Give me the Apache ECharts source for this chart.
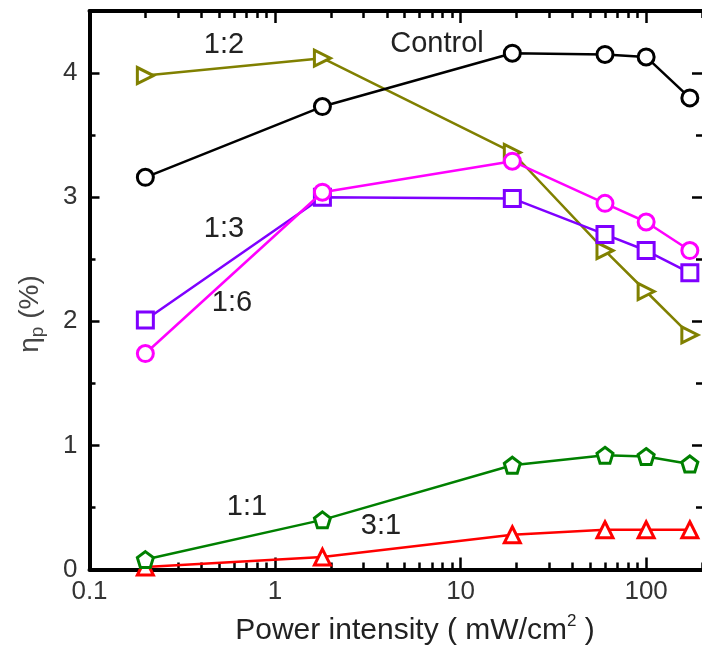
<!DOCTYPE html>
<html><head><meta charset="utf-8">
<script src="https://cdn.jsdelivr.net/npm/echarts@6/dist/echarts.min.js"></script>
<style>html,body{margin:0;padding:0;background:#fff}#c{width:702px;height:652px}</style>
</head><body><div id="c"></div>
<script>
// ---- data ----
const intensity = [0.2, 1.8, 19, 60, 100, 172];
const control = [3.16, 3.73, 4.16, 4.15, 4.13, 3.80];
const ratio12 = [3.98, 4.12, 3.36, 2.57, 2.24, 1.89];
const ratio13 = [2.01, 3.00, 2.99, 2.70, 2.57, 2.39];
const ratio16 = [1.74, 3.04, 3.29, 2.95, 2.80, 2.57];
const ratio11 = [0.08, 0.40, 0.84, 0.92, 0.91, 0.85];
const ratio31 = [0.02, 0.10, 0.28, 0.32, 0.32, 0.32];
const xMajorTicks = [0.1, 1, 10, 100];
const xMinorTicks = [0.2,0.3,0.4,0.5,0.6,0.7,0.8,0.9, 2,3,4,5,6,7,8,9, 20,30,40,50,60,70,80,90, 200];
const yTickLabels = [0, 1, 2, 3, 4];

const FONT = 'Liberation Sans, Arial, sans-serif';
const X_MIN = 0.1, X_MAX = 200, Y_MIN = 0, Y_MAX = 4.5;
const pentagon = 'path://M50,0 L97.6,34.5 L79.4,90.5 L20.6,90.5 L2.4,34.5 Z';

function mk(name, vals, color, symbol, rotate, z) {
  return {
    name, type: 'line', xAxisIndex: 0, yAxisIndex: 0,
    data: intensity.map((x, i) => [x, vals[i]]),
    symbol, symbolSize: 16, symbolRotate: rotate || 0, showAllSymbol: true,
    lineStyle: { color, width: 2.5 },
    itemStyle: { color: '#fff', borderColor: color, borderWidth: 3 },
    emphasis: { disabled: true }, clip: false, z
  };
}

function xAxisBase(pos, major, showLine) {
  return {
    type: 'log', logBase: 10, min: X_MIN, max: X_MAX, position: pos, gridIndex: 0,
    axisLine: { show: showLine, onZero: false, lineStyle: { color: '#000', width: 4 } },
    axisTick: { show: true, inside: true, length: major ? 12 : 7,
      lineStyle: { color: '#000', width: 2.5 }, customValues: major ? xMajorTicks : xMinorTicks },
    axisLabel: { show: false },
    splitLine: { show: false }, minorTick: { show: false }
  };
}

const xBottom = xAxisBase('bottom', true, true);
xBottom.axisLabel = {
  show: true, customValues: xMajorTicks, fontSize: 26, fontFamily: FONT, color: '#333', margin: 9,
  formatter: v => String(+(+v).toPrecision(6))
};

function yAxisBase(pos, labels, showLine) {
  return {
    type: 'value', min: Y_MIN, max: Y_MAX, interval: 1, position: pos,
    axisLine: { show: showLine, onZero: false, lineStyle: { color: '#000', width: 4 } },
    axisTick: { show: true, inside: true, length: 10, lineStyle: { color: '#000', width: 2.5 } },
    minorTick: { show: true, splitNumber: 2, length: 6, lineStyle: { color: '#000', width: 2.5 } },
    axisLabel: labels ? { show: true, fontSize: 26, fontFamily: FONT, color: '#333', margin: 12,
      showMaxLabel: false, formatter: v => (yTickLabels.indexOf(v) >= 0 ? String(v) : '') } : { show: false },
    splitLine: { show: false }, minorSplitLine: { show: false }
  };
}

function ann(text, x, y) {
  return { type: 'text', x, y, z: 100, style: { text, fill: '#222', font: '29px ' + FONT,
    align: 'center', verticalAlign: 'middle' } };
}

const chart = echarts.init(document.getElementById('c'), null, { renderer: 'canvas' });
chart.setOption({
  animation: false,
  backgroundColor: '#fff',
  grid: { left: 89.5, top: 11, right: -3, bottom: 82.5, containLabel: false },
  xAxis: [xBottom, xAxisBase('bottom', false, false), xAxisBase('top', true, true), xAxisBase('top', false, false)],
  yAxis: [yAxisBase('left', true, true), yAxisBase('right', false, false)],
  series: [
    mk('3:1', ratio31, '#ff0000', 'triangle', 0, 2),
    mk('1:2', ratio12, '#808000', 'triangle', -90, 3),
    mk('1:3', ratio13, '#7f00ff', 'rect', 0, 4),
    mk('1:6', ratio16, '#ff00ff', 'circle', 0, 5),
    mk('Control', control, '#000000', 'circle', 0, 6),
    mk('1:1', ratio11, '#008000', pentagon, 0, 7)
  ],
  graphic: [
    ann('1:2', 224, 45),
    ann('Control', 437, 44),
    ann('1:3', 224, 229),
    ann('1:6', 232, 303),
    ann('1:1', 247, 507),
    ann('3:1', 381, 526),
    { type: 'text', x: 415, y: 631, z: 100, style: {
      text: '{m|Power intensity ( mW/cm}{s|2}{m| )}', align: 'center', verticalAlign: 'middle',
      rich: { m: { fontSize: 30, fontFamily: FONT, fill: '#222', lineHeight: 36 },
              s: { fontSize: 17, fontFamily: FONT, fill: '#222', lineHeight: 20, verticalAlign: 'top' } } } },
    { type: 'text', x: 30, y: 314, rotation: Math.PI / 2, z: 100, style: {
      text: '{m|η}{s|p}{m| (%)}', align: 'center', verticalAlign: 'middle',
      rich: { m: { fontSize: 28, fontFamily: FONT, fill: '#444', lineHeight: 34 },
              s: { fontSize: 19, fontFamily: FONT, fill: '#444', lineHeight: 20, verticalAlign: 'bottom' } } } }
  ]
});
</script></body></html>
